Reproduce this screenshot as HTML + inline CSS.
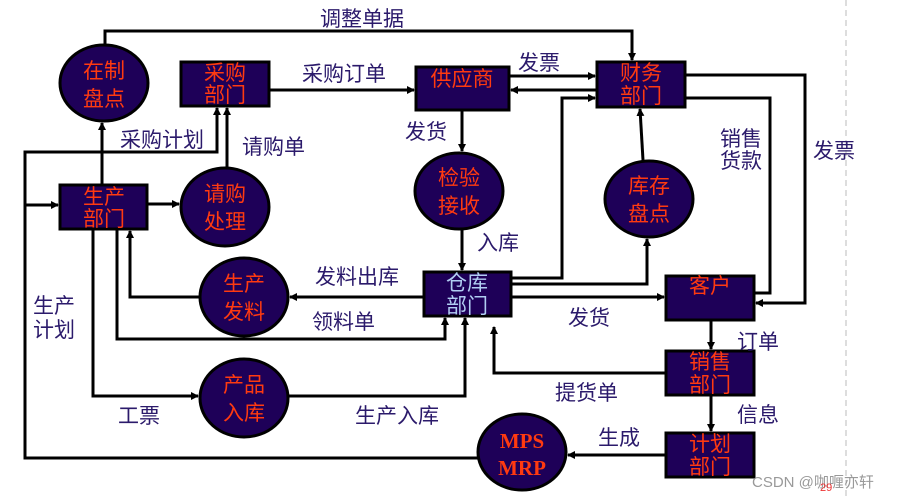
<!DOCTYPE html>
<html><head><meta charset="utf-8"><style>
body{margin:0;background:#fff;}
svg{display:block;font-family:"Liberation Sans","Noto Sans CJK SC",sans-serif;}
.l{fill:#2b1a6b;font-size:21px;}
.n{fill:#ff3a10;font-size:21px;text-anchor:middle;}
</style></head><body>
<svg width="903" height="498" viewBox="0 0 903 498" xmlns="http://www.w3.org/2000/svg">
<defs><marker id="a" markerWidth="8" markerHeight="8" refX="7" refY="4" orient="auto" markerUnits="userSpaceOnUse"><path d="M0,0 L8,4 L0,8z" fill="#000"/></marker></defs>
<line x1="846" y1="0" x2="846" y2="498" stroke="#bbb" stroke-dasharray="6,4"/>
<g stroke="#000" stroke-width="3" fill="none">
<polyline points="105,45 105,31 632,31 632,60" marker-end="url(#a)"/>
<line x1="269" y1="90" x2="414" y2="90" marker-end="url(#a)"/>
<line x1="509" y1="76" x2="595" y2="76" marker-end="url(#a)"/>
<line x1="597" y1="90" x2="511" y2="90" marker-end="url(#a)"/>
<polyline points="511,278 562,278 562,98 595,98" marker-end="url(#a)"/>
<polyline points="511,284 647,284 647,239" marker-end="url(#a)"/>
<line x1="643" y1="160" x2="640" y2="109" marker-end="url(#a)"/>
<polyline points="685,75 805,75 805,303 756,303" marker-end="url(#a)"/>
<polyline points="676,98 770,98 770,293 754,293"/>
<line x1="462" y1="110" x2="462" y2="151" marker-end="url(#a)"/>
<line x1="462" y1="229" x2="462" y2="270" marker-end="url(#a)"/>
<line x1="424" y1="297" x2="290" y2="297" marker-end="url(#a)"/>
<polyline points="200,297 130,297 130,231" marker-end="url(#a)"/>
<polyline points="117,229 117,339 445,339 445,318" marker-end="url(#a)"/>
<polyline points="93,229 93,396 198,396" marker-end="url(#a)"/>
<polyline points="288,396 465,396 465,318" marker-end="url(#a)"/>
<line x1="511" y1="297" x2="664" y2="297" marker-end="url(#a)"/>
<polyline points="666,373 494,373 494,327" marker-end="url(#a)"/>
<line x1="711" y1="320" x2="711" y2="349" marker-end="url(#a)"/>
<line x1="711" y1="395" x2="711" y2="431" marker-end="url(#a)"/>
<line x1="666" y1="455" x2="568" y2="455" marker-end="url(#a)"/>
<polyline points="478,458 25,458 25,152 217,152 217,108" marker-end="url(#a)"/>
<line x1="25" y1="205" x2="58" y2="205" marker-end="url(#a)"/>
<line x1="102" y1="185" x2="102" y2="123" marker-end="url(#a)"/>
<line x1="147" y1="204" x2="179" y2="204" marker-end="url(#a)"/>
<line x1="227" y1="168" x2="227" y2="108" marker-end="url(#a)"/>
</g>
<g fill="#1e0058" stroke="#000" stroke-width="3">
<rect x="181" y="62" width="88" height="44"/>
<rect x="60" y="185" width="87" height="44"/>
<rect x="416" y="67" width="93" height="43"/>
<rect x="597" y="62" width="88" height="45"/>
<rect x="424" y="272" width="87" height="44"/>
<rect x="666" y="276" width="88" height="44"/>
<rect x="666" y="351" width="88" height="44"/>
<rect x="666" y="433" width="88" height="44"/>
<ellipse cx="104" cy="83" rx="44" ry="38"/>
<ellipse cx="225" cy="207" rx="44" ry="39"/>
<ellipse cx="459" cy="191" rx="44" ry="38"/>
<ellipse cx="649" cy="199" rx="44" ry="38"/>
<ellipse cx="244" cy="297" rx="44" ry="39"/>
<ellipse cx="244" cy="398" rx="44" ry="39"/>
<ellipse cx="522" cy="452" rx="44" ry="38"/>
</g>
<g class="n">
<text x="225" y="80">采购</text><text x="225" y="102">部门</text>
<text x="104" y="204">生产</text><text x="104" y="226">部门</text>
<text x="462" y="86">供应商</text>
<text x="641" y="80">财务</text><text x="641" y="103">部门</text>
<text x="467" y="290" fill="#b0cdf2">仓库</text><text x="467" y="313" fill="#b0cdf2">部门</text>
<text x="710" y="293">客户</text>
<text x="710" y="369">销售</text><text x="710" y="392">部门</text>
<text x="710" y="451">计划</text><text x="710" y="474">部门</text>
<text x="104" y="78">在制</text><text x="104" y="106">盘点</text>
<text x="225" y="201">请购</text><text x="225" y="229">处理</text>
<text x="459" y="185">检验</text><text x="459" y="213">接收</text>
<text x="649" y="193">库存</text><text x="649" y="221">盘点</text>
<text x="244" y="291">生产</text><text x="244" y="319">发料</text>
<text x="244" y="392">产品</text><text x="244" y="420">入库</text>
<text x="522" y="448" font-family="Liberation Serif" font-weight="bold">MPS</text><text x="522" y="475" font-family="Liberation Serif" font-weight="bold">MRP</text>
</g>
<g class="l">
<text x="320" y="26">调整单据</text>
<text x="302" y="81">采购订单</text>
<text x="518" y="70">发票</text>
<text x="405" y="139">发货</text>
<text x="120" y="147">采购计划</text>
<text x="242" y="154">请购单</text>
<text x="720" y="146">销售</text><text x="720" y="168">货款</text>
<text x="813" y="158">发票</text>
<text x="477" y="250">入库</text>
<text x="315" y="284">发料出库</text>
<text x="312" y="329">领料单</text>
<text x="568" y="325">发货</text>
<text x="33" y="313">生产</text><text x="33" y="337">计划</text>
<text x="737" y="349">订单</text>
<text x="555" y="400">提货单</text>
<text x="737" y="422">信息</text>
<text x="118" y="423">工票</text>
<text x="355" y="423">生产入库</text>
<text x="598" y="445">生成</text>
</g>
<text x="752" y="487" font-size="15" fill="#999">CSDN @咖喱亦轩</text>
<text x="820" y="491" font-size="11" fill="#e33">29</text>
</svg>
</body></html>
